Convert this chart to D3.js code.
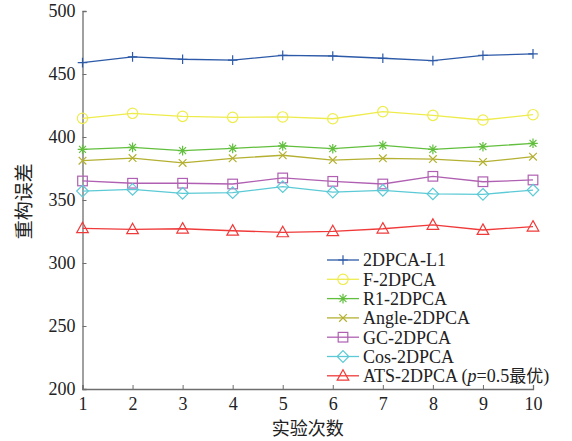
<!DOCTYPE html>
<html>
<head>
<meta charset="utf-8">
<script src="https://cdn.jsdelivr.net/npm/d3@7"></script>
<style>
  html, body { margin: 0; padding: 0; background: #fff; }
  svg { display: block; }
  .serif { font-family: "Liberation Serif", "Times New Roman", serif; }
  .cjk { font-family: "Noto Sans CJK SC", sans-serif; }
</style>
</head>
<body>
<svg id="chart" width="572" height="441"></svg>
<script>
// Trial numbers (x) and reconstruction error per method (y)
const trials = [1, 2, 3, 4, 5, 6, 7, 8, 9, 10];
const yTicks = [200, 250, 300, 350, 400, 450, 500];

const l1Values     = [459.0, 463.6, 461.7, 461.0, 464.8, 464.3, 462.5, 460.6, 464.8, 466.0];
const fValues      = [414.8, 418.8, 416.4, 415.6, 415.9, 414.5, 420.1, 417.2, 413.5, 417.7];
const r1Values     = [390.2, 391.8, 389.2, 391.0, 392.9, 390.7, 393.4, 390.2, 392.3, 395.0];
const angleValues  = [381.2, 383.3, 379.4, 383.1, 385.5, 381.7, 383.1, 382.5, 380.2, 384.4];
const gcValues     = [365.1, 363.3, 363.3, 362.7, 367.5, 364.8, 362.7, 368.8, 364.5, 365.9];
const cosValues    = [357.1, 358.4, 355.3, 355.8, 360.6, 356.3, 357.7, 354.8, 354.5, 357.9];
const atsValues    = [327.5, 326.7, 327.2, 325.6, 324.3, 325.1, 327.2, 330.2, 326.2, 328.8];

const seriesNames = ["2DPCA-L1", "F-2DPCA", "R1-2DPCA", "Angle-2DPCA", "GC-2DPCA", "Cos-2DPCA", "ATS-2DPCA"];
const seriesColors = ["#2d5aa8", "#eeec4c", "#62bf3e", "#b4b032", "#b060b2", "#5ccad6", "#f03a3a"];
const seriesMarkers = ["plus", "circle", "asterisk", "cross", "square", "diamond", "triangle"];
const seriesValues = [l1Values, fValues, r1Values, angleValues, gcValues, cosValues, atsValues];

const svg = d3.select("#chart");
const margin = { left: 82.5, right: 39, top: 11, bottom: 52 };
const W = 572, H = 441;

const x = d3.scaleLinear().domain([1, 10]).range([margin.left, W - margin.right]);
const y = d3.scaleLinear().domain([200, 500]).range([H - margin.bottom, margin.top]);

const axisColor = "#6e6e6e";

// Axes: ticks point inward
const xAxis = svg.append("g")
  .attr("transform", `translate(0,${y(200)})`)
  .call(d3.axisBottom(x).tickValues(trials).tickSize(-4).tickPadding(8).tickFormat(d3.format("d")));
const yAxis = svg.append("g")
  .attr("transform", `translate(${x(1)},0)`)
  .call(d3.axisLeft(y).tickValues(yTicks).tickSize(-4).tickPadding(7));

[xAxis, yAxis].forEach(g => {
  g.select(".domain").attr("stroke", axisColor).attr("stroke-width", 1.3);
  g.selectAll(".tick line").attr("stroke", axisColor).attr("stroke-width", 1);
  g.selectAll(".tick text")
    .attr("class", "serif")
    .attr("font-size", 18)
    .attr("fill", "#222");
});
xAxis.selectAll(".tick text").attr("dy", "0.72em");
yAxis.selectAll(".tick text").attr("dy", "0.33em");

// Axis titles
svg.append("text")
  .attr("class", "cjk")
  .attr("x", x(5.5)).attr("y", 435)
  .attr("text-anchor", "middle")
  .attr("font-size", 18)
  .attr("fill", "#222")
  .text("实验次数");

svg.append("text")
  .attr("class", "cjk")
  .attr("transform", `translate(31,${y(349)}) rotate(-90)`)
  .attr("text-anchor", "middle")
  .attr("font-size", 19)
  .attr("fill", "#222")
  .text("重构误差");

// Marker drawing
function drawMarker(g, type, cx, cy, color) {
  const s = 4.8;
  const common = { stroke: color, "stroke-width": 1.2, fill: "none" };
  const apply = (el) => { for (const k in common) el.attr(k, common[k]); return el; };
  if (type === "plus") {
    apply(g.append("path").attr("d", `M${cx - s},${cy}H${cx + s}M${cx},${cy - s}V${cy + s}`));
  } else if (type === "circle") {
    apply(g.append("circle").attr("cx", cx).attr("cy", cy).attr("r", 5.2));
  } else if (type === "asterisk") {
    const d = s * 0.72;
    apply(g.append("path").attr("d",
      `M${cx - s},${cy}H${cx + s}M${cx},${cy - s}V${cy + s}` +
      `M${cx - d},${cy - d}L${cx + d},${cy + d}M${cx - d},${cy + d}L${cx + d},${cy - d}`));
  } else if (type === "cross") {
    const d = s * 0.8;
    apply(g.append("path").attr("d",
      `M${cx - d},${cy - d}L${cx + d},${cy + d}M${cx - d},${cy + d}L${cx + d},${cy - d}`));
  } else if (type === "square") {
    apply(g.append("rect").attr("x", cx - 4.8).attr("y", cy - 4.8).attr("width", 9.6).attr("height", 9.6));
  } else if (type === "diamond") {
    const r = 5.8;
    apply(g.append("path").attr("d", `M${cx},${cy - r}L${cx + r},${cy}L${cx},${cy + r}L${cx - r},${cy}Z`));
  } else if (type === "triangle") {
    const r = 5.8;
    apply(g.append("path").attr("d", `M${cx},${cy - r * 1.05}L${cx + r},${cy + r * 0.75}L${cx - r},${cy + r * 0.75}Z`));
  }
}

// Series lines and markers
const line = d3.line().x((d, i) => x(trials[i])).y(d => y(d));
seriesValues.forEach((vals, si) => {
  const g = svg.append("g");
  g.append("path")
    .attr("d", line(vals))
    .attr("fill", "none")
    .attr("stroke", seriesColors[si])
    .attr("stroke-width", 1.3);
  vals.forEach((v, i) => drawMarker(g, seriesMarkers[si], x(trials[i]), y(v), seriesColors[si]));
});

// Legend
const legend = svg.append("g");
const legX0 = 327, legX1 = 359, legY0 = 260, legStep = 19.3;
seriesNames.forEach((name, i) => {
  const ly = legY0 + i * legStep;
  legend.append("line")
    .attr("x1", legX0).attr("x2", legX1)
    .attr("y1", ly).attr("y2", ly)
    .attr("stroke", seriesColors[i]).attr("stroke-width", 1.3);
  drawMarker(legend, seriesMarkers[i], (legX0 + legX1) / 2, ly, seriesColors[i]);
  const t = legend.append("text")
    .attr("class", "serif")
    .attr("x", 363).attr("y", ly)
    .attr("dy", "0.35em")
    .attr("font-size", 18)
    .attr("fill", "#222");
  t.append("tspan").text(name);
  if (i === seriesNames.length - 1) {
    t.append("tspan").text(" (");
    t.append("tspan").attr("font-style", "italic").text("p");
    t.append("tspan").text("=0.5");
    t.append("tspan").attr("class", "cjk").attr("font-size", 17).text("最优");
    t.append("tspan").text(")");
  }
});
</script>
</body>
</html>
